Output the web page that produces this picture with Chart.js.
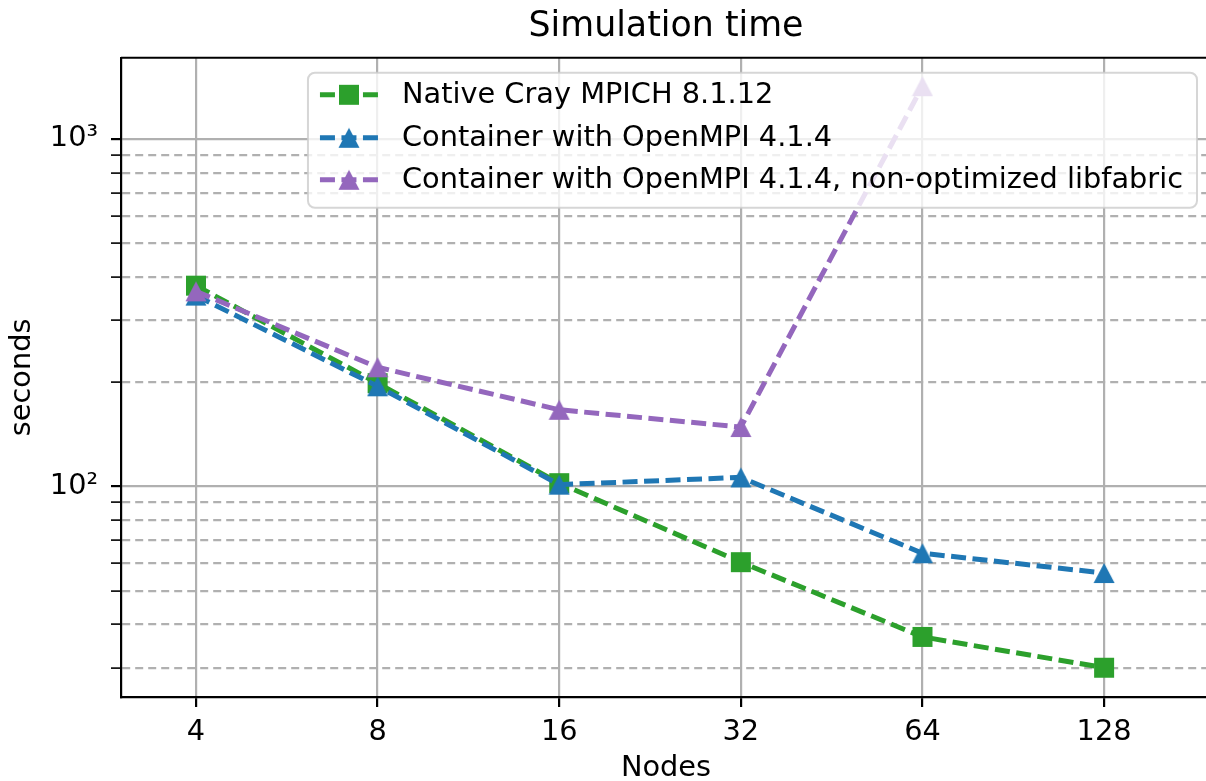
<!DOCTYPE html>
<html>
<head>
<meta charset="utf-8">
<script src="https://cdn.jsdelivr.net/npm/chart.js@4/dist/chart.umd.min.js"></script>
<style>
html, body { margin: 0; padding: 0; overflow: hidden; background: #fff; }
canvas { display: block; }
</style>
</head>
<body>
<canvas id="simChart" width="1332" height="781"></canvas>
<script>
// values (seconds)
var nodes = [4, 8, 16, 32, 64, 128];
var nativeCray = [378, 198, 102, 60.4, 36.8, 30.0];
var containerOmpi = [354, 194, 101, 106, 64.1, 56.2];
var containerNoOpt = [364, 220, 166, 148, 1419, null];
var seriesLabels = [
    'Native Cray MPICH 8.1.12',
    'Container with OpenMPI 4.1.4',
    'Container with OpenMPI 4.1.4, non-optimized libfabric'
];
var yTicks = [30, 40, 50, 60, 70, 80, 90, 100, 200, 300, 400, 500, 600, 700, 800, 900, 1000];
var yTickLabels = { 100: '10²', 1000: '10³' };

Chart.defaults.font.family = "'DejaVu Sans', sans-serif";
Chart.defaults.color = '#000';

function points(values) {
    var out = [];
    for (var i = 0; i < nodes.length; i++) {
        if (values[i] !== null) out.push({ x: nodes[i], y: values[i] });
    }
    return out;
}

// matplotlib-like markers: box centred on the point
function markerImage(kind, color) {
    var c = document.createElement('canvas');
    c.width = 22; c.height = 22;
    var g = c.getContext('2d');
    g.fillStyle = color;
    g.beginPath();
    if (kind === 'square') {
        g.rect(1, 1, 20, 20);
    } else {
        g.moveTo(11, 1);
        g.lineTo(21.5, 21);
        g.lineTo(0.5, 21);
        g.closePath();
    }
    g.fill();
    return c;
}

var colors = ['#2ca02c', '#1f77b4', '#9467bd'];
var markers = [
    markerImage('square', colors[0]),
    markerImage('triangle', colors[1]),
    markerImage('triangle', colors[2])
];

function dataset(i, values) {
    return {
        label: seriesLabels[i],
        data: points(values),
        yAxisID: 'y',
        borderColor: colors[i],
        backgroundColor: colors[i],
        borderWidth: 5,
        borderDash: [15, 6.5],
        pointStyle: markers[i],
        pointRadius: 11,
        tension: 0,
        order: 3 - i
    };
}

function isMajor(ctx) {
    return ctx.tick && yTickLabels[ctx.tick.value];
}

var frameAndLegend = {
    id: 'frameAndLegend',
    afterDatasetsDraw: function(chart) {
        var ctx = chart.ctx;
        var a = chart.chartArea;
        ctx.save();
        ctx.strokeStyle = '#000';
        ctx.lineWidth = 2.2;
        ctx.beginPath();
        ctx.moveTo(a.left, a.top);
        ctx.lineTo(a.right, a.top);
        ctx.stroke();

        // legend box, upper right inside the axes
        ctx.font = '28.8px "DejaVu Sans"';
        var textW = 0;
        seriesLabels.forEach(function(l) { textW = Math.max(textW, ctx.measureText(l).width); });
        var w = 94 + textW + 14;
        var h = 135;
        var x0 = a.right - 14 - w;
        var y0 = a.top + 15;
        ctx.beginPath();
        ctx.roundRect(x0, y0, w, h, 7);
        ctx.fillStyle = 'rgba(255,255,255,0.8)';
        ctx.fill();
        ctx.strokeStyle = 'rgba(204,204,204,0.8)';
        ctx.lineWidth = 2;
        ctx.stroke();

        var rows = [22, 65, 107];
        for (var i = 0; i < seriesLabels.length; i++) {
            var ry = y0 + rows[i];
            ctx.strokeStyle = colors[i];
            ctx.lineWidth = 5;
            ctx.setLineDash([15, 6.5]);
            ctx.beginPath();
            ctx.moveTo(x0 + 12, ry);
            ctx.lineTo(x0 + 70, ry);
            ctx.stroke();
            ctx.setLineDash([]);
            ctx.drawImage(markers[i], x0 + 41 - 11, ry - 11);
            ctx.fillStyle = '#000';
            ctx.textBaseline = 'middle';
            ctx.textAlign = 'left';
            ctx.fillText(seriesLabels[i], x0 + 94, ry + 1);
        }
        ctx.restore();
    }
};

var ctx = document.getElementById('simChart');
var simChart = new Chart(ctx, {
    type: 'line',
    data: {
        datasets: [
            dataset(0, nativeCray),
            dataset(1, containerOmpi),
            dataset(2, containerNoOpt)
        ]
    },
    plugins: [frameAndLegend],
    options: {
        responsive: false,
        animation: false,
        layout: { padding: 0 },
        plugins: {
            legend: { display: false },
            tooltip: { enabled: false },
            title: {
                display: true,
                text: 'Simulation time',
                color: '#000',
                font: { size: 34.8, weight: 'normal' },
                padding: { top: 6, bottom: 10 }
            }
        },
        scales: {
            x: {
                type: 'logarithmic',
                min: 3.005,
                max: 192.5,
                afterBuildTicks: function(s) {
                    s.ticks = nodes.map(function(v) { return { value: v }; });
                },
                afterFit: function(s) { s.height = 84; },
                ticks: {
                    autoSkip: false,
                    maxRotation: 0,
                    padding: 8,
                    font: { size: 28.8 },
                    callback: function(v) { return String(v); }
                },
                grid: { color: '#b0b0b0', lineWidth: 2.2, tickColor: '#000', tickLength: 10, tickWidth: 2.2 },
                border: { color: '#000', width: 2.2 },
                title: { display: true, text: 'Nodes', font: { size: 28.8, lineHeight: 0.85 }, padding: { top: 0, bottom: 0 } }
            },
            y: {
                type: 'logarithmic',
                min: 24.7,
                max: 1714,
                afterBuildTicks: function(s) {
                    s.ticks = yTicks.map(function(v) { return { value: v }; });
                },
                afterFit: function(s) { s.width = 121; },
                ticks: {
                    autoSkip: false,
                    padding: 13,
                    font: { size: 28.8 },
                    callback: function(v) { return yTickLabels[v] || ''; }
                },
                grid: {
                    color: '#b0b0b0',
                    lineWidth: 2.2,
                    tickColor: '#000',
                    tickLength: 10,
                    tickWidth: function(c) { return isMajor(c) ? 2.2 : 1.6; }
                },
                border: {
                    color: '#000',
                    width: 2.2,
                    dash: function(c) { return (c.tick && !isMajor(c)) ? [8, 5] : []; }
                },
                title: { display: true, text: 'seconds', font: { size: 28.8 }, padding: { top: 5 } }
            },
            // empty right-hand box so the axes end just past the window edge
            yRight: {
                type: 'linear',
                position: 'right',
                display: true,
                afterFit: function(s) { s.width = 121; },
                ticks: { display: false },
                grid: { display: false, drawOnChartArea: false },
                border: { display: false }
            }
        }
    }
});
</script>
</body>
</html>
